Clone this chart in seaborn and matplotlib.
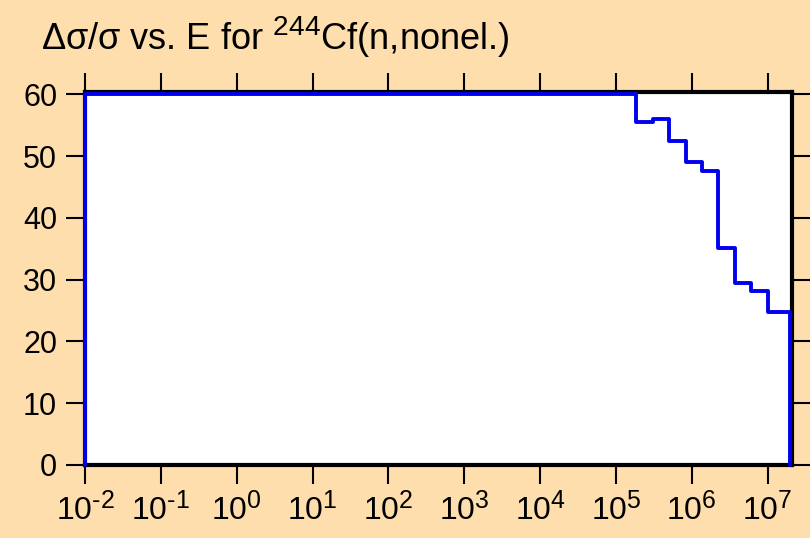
import matplotlib
matplotlib.use("Agg")
import matplotlib.pyplot as plt
import matplotlib._mathtext as _mt
import seaborn as sns
import numpy as np
import pandas as pd

# Data
edges = [1e-2, 1.85e5, 3.07e5, 5.0e5, 8.3e5, 1.37e6, 2.23e6, 3.7e6, 6.1e6, 1.0e7, 2.0e7]
values = [60.0, 55.6, 56.0, 52.4, 49.0, 47.6, 35.2, 29.4, 28.2, 24.8]
xtick_exps = [-2, -1, 0, 1, 2, 3, 4, 5, 6, 7]
yticks = [0, 10, 20, 30, 40, 50, 60]
title_text = r"$\Delta\sigma/\sigma$ vs. E for $^{244}$Cf(n,nonel.)"

# slightly larger superscripts, as in the reference
_mt.SHRINK_FACTOR = 0.78

sns.set_style("ticks")
plt.rcParams['font.family'] = ['Liberation Sans', 'DejaVu Sans']
plt.rcParams['text.color'] = 'black'
plt.rcParams['mathtext.fontset'] = 'custom'
plt.rcParams['mathtext.rm'] = 'Liberation Sans'
plt.rcParams['mathtext.it'] = 'Liberation Sans'
plt.rcParams['mathtext.default'] = 'regular'

bg = "#FFDEAD"
fig = plt.figure(figsize=(8.1, 5.38), dpi=100, facecolor=bg)
ax = fig.add_axes([85/810, 1-465/538, (792-85)/810, (465-92)/538])
ax.set_facecolor("white")

x = [edges[0]] + edges + [edges[-1]]
y = [0.0] + values + [values[-1], 0.0]
df = pd.DataFrame({"E": x, "v": y})
sns.lineplot(data=df, x="E", y="v", ax=ax, sort=False, estimator=None,
             drawstyle="steps-post", color="#0000EE", linewidth=2.8,
             clip_on=False, zorder=5)

ax.set_xscale("log")
ax.set_xlim(1e-2, 2.1e7)
ax.set_ylim(0, 60.4)
ax.set_xticks([10.0**e for e in xtick_exps])
ax.set_xticklabels([r"$10^{%s}$" % str(e).replace("-", "\u2010") for e in xtick_exps])
ax.xaxis.set_minor_locator(matplotlib.ticker.NullLocator())
ax.set_yticks(yticks)
ax.set_yticklabels([str(v) for v in yticks])
ax.set_xlabel("")
ax.set_ylabel("")

for s in ["top", "right", "bottom", "left"]:
    ax.spines[s].set_linewidth(3.0)
    ax.spines[s].set_color("black")

ax.tick_params(axis="both", which="major", direction="out", length=14, width=1.5,
               colors="black", labelsize=22, top=True, right=True,
               labeltop=False, labelright=False)
ax.tick_params(axis="y", pad=6)
ax.tick_params(axis="x", labelsize=23, pad=6)

fig.text(41/810, 1-50/538, title_text, fontsize=26, ha="left", va="baseline")

fig.savefig("out.png", dpi=100, facecolor=bg)
